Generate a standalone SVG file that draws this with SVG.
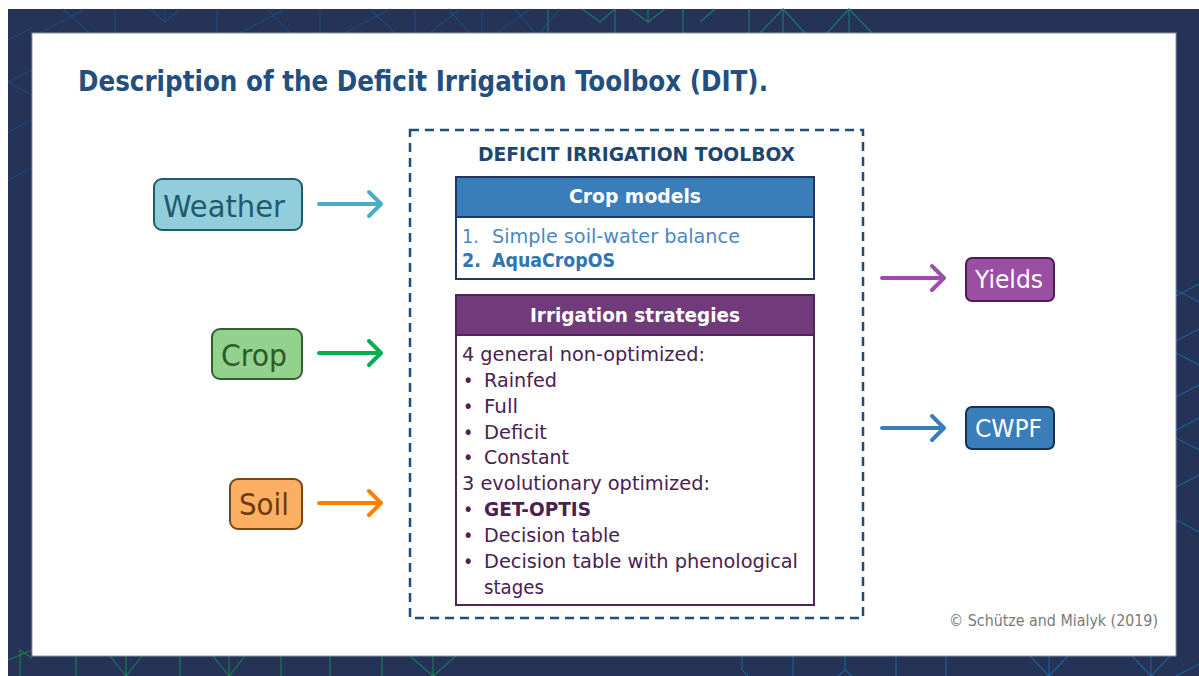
<svg xmlns="http://www.w3.org/2000/svg" width="1199" height="676" viewBox="0 0 1199 676">
<style>
.t{font-family:"DejaVu Sans Condensed","DejaVu Sans",sans-serif}
.b{font-weight:bold}
.body{font-size:19.5px;fill:#4a2150}
.bul{font-size:19.5px;fill:#4a2150}
.arr{fill:none;stroke-width:4;stroke-linecap:round;stroke-linejoin:round}
.bgl{fill:none;stroke-width:1.2}
</style>
<rect x="0" y="0" width="1199" height="676" fill="#ffffff"/>
<rect x="8" y="9" width="1191" height="667" fill="#243356"/>
<g id="bg-pattern">
<g class="bgl" stroke="#1d4a7c">
<path d="M115 9V33M217 9V33M320 9V33M415 9V33M482 9V33"/>
<path d="M40 33L85 9M63 9L90 33M240 33L285 9M267 9L290 33M165 9V22L150 9M165 22L180 9M345 33L390 9M370 9L395 33M430 33L460 9M448 9L470 33M497 33L530 9M515 9L535 33M540 33L560 9"/>
<path d="M8 40L32 28M8 82L32 70M8 82L32 95M8 132L32 120M8 180L32 168"/>
</g>
<g class="bgl" stroke="#1f7472">
<path d="M548 9V33M615 9V33M683 9V33M749 9V33M582 9L600 22L615 9M648 9V22L630 9M648 22L665 9M715 9L700 22M760 33L783 9L805 33M783 9V33M827 33L849 9L872 33M849 9V33"/>
</g>
<g class="bgl" stroke="#1b7a55">
<path d="M76 656V676M180 656V676M281 656V676M330 656V676M382 656V676M433 656V676M110 656L126 676L142 656M126 676V656M213 656L229 676L245 656M229 676V656M410 656L433 676L456 656"/>
<path d="M8 660L32 650M20 676V650L32 658"/>
</g>
<g class="bgl" stroke="#1e5e96">
<path d="M742 656V670L748 676M793 656V676M845 656V670L838 676M845 670L852 676M896 656V676M946 656V676M1030 656L1049 676L1068 656M1049 676V656M1132 656L1151 676L1170 656M1151 676V656M1176 676L1199 664"/>
<path d="M1176 296L1199 284M1176 290L1199 302M1176 341L1199 329M1176 353L1199 365M1176 397L1199 385M1176 430L1199 418M1176 438L1199 450M1176 487L1199 475M1176 520L1199 532"/>
</g>
</g>
<rect x="32" y="33" width="1144" height="623" fill="#ffffff" stroke="#8a97ad" stroke-width="1"/>
<text class="t b" x="78" y="91" font-size="29" fill="#234f80" textLength="690" lengthAdjust="spacingAndGlyphs">Description of the Deficit Irrigation Toolbox (DIT).</text>
<g id="toolbox">
<rect x="410" y="130" width="453" height="488" fill="none" stroke="#1f4e7a" stroke-width="2.5" stroke-dasharray="9 6"/>
<text class="t b" x="478" y="161" font-size="19" fill="#1f4670" textLength="317" lengthAdjust="spacingAndGlyphs">DEFICIT IRRIGATION TOOLBOX</text>
</g>
<g id="crop-models">
<rect x="456" y="177" width="358" height="102" fill="#ffffff" stroke="#1f3864" stroke-width="2"/>
<rect x="456" y="177" width="358" height="40" fill="#3a7dbb" stroke="#1f3864" stroke-width="2"/>
<text class="t b" x="569" y="203" font-size="20" fill="#ffffff" textLength="132" lengthAdjust="spacingAndGlyphs">Crop models</text>
<text class="t" x="462" y="243" font-size="19.5" fill="#4a88c4">1.</text>
<text class="t" x="492" y="243" font-size="19.5" fill="#4a88c4" textLength="248" lengthAdjust="spacingAndGlyphs">Simple soil-water balance</text>
<text class="t b" x="462" y="267" font-size="19.5" fill="#2f75b5">2.</text>
<text class="t b" x="492" y="267" font-size="19.5" fill="#2f75b5" textLength="123" lengthAdjust="spacingAndGlyphs">AquaCropOS</text>
</g>
<g id="irrigation-strategies">
<rect x="456" y="295" width="358" height="310" fill="#ffffff" stroke="#4f2557" stroke-width="2"/>
<rect x="456" y="295" width="358" height="40" fill="#713b7b" stroke="#4f2557" stroke-width="2"/>
<text class="t b" x="530" y="322" font-size="20" fill="#ffffff" textLength="210" lengthAdjust="spacingAndGlyphs">Irrigation strategies</text>
<text class="t body" x="462" y="361" textLength="243" lengthAdjust="spacingAndGlyphs">4 general non-optimized:</text>
<text class="t bul" x="463" y="387">•</text>
<text class="t body" x="484" y="387" textLength="73" lengthAdjust="spacingAndGlyphs">Rainfed</text>
<text class="t bul" x="463" y="413">•</text>
<text class="t body" x="484" y="413" textLength="34" lengthAdjust="spacingAndGlyphs">Full</text>
<text class="t bul" x="463" y="439">•</text>
<text class="t body" x="484" y="439" textLength="63" lengthAdjust="spacingAndGlyphs">Deficit</text>
<text class="t bul" x="463" y="464">•</text>
<text class="t body" x="484" y="464" textLength="85" lengthAdjust="spacingAndGlyphs">Constant</text>
<text class="t body" x="462" y="490" textLength="248" lengthAdjust="spacingAndGlyphs">3 evolutionary optimized:</text>
<text class="t bul" x="463" y="516">•</text>
<text class="t body b" x="484" y="516" textLength="107" lengthAdjust="spacingAndGlyphs">GET-OPTIS</text>
<text class="t bul" x="463" y="542">•</text>
<text class="t body" x="484" y="542" textLength="136" lengthAdjust="spacingAndGlyphs">Decision table</text>
<text class="t bul" x="463" y="568">•</text>
<text class="t body" x="484" y="568" textLength="314" lengthAdjust="spacingAndGlyphs">Decision table with phenological</text>
<text class="t body" x="484" y="594" textLength="60" lengthAdjust="spacingAndGlyphs">stages</text>
</g>
<g id="weather">
<rect x="154" y="179" width="148" height="51" rx="8" fill="#92cddc" stroke="#215a6b" stroke-width="2"/>
<text class="t" x="163" y="217" font-size="30" fill="#1f5a6c" textLength="122" lengthAdjust="spacingAndGlyphs">Weather</text>
</g>
<g id="crop">
<rect x="212" y="329" width="90" height="50" rx="8" fill="#93d18f" stroke="#365f2b" stroke-width="2"/>
<text class="t" x="221" y="366" font-size="30" fill="#2e5a26" textLength="66" lengthAdjust="spacingAndGlyphs">Crop</text>
</g>
<g id="soil">
<rect x="230" y="479" width="72" height="50" rx="8" fill="#fdb063" stroke="#7a4612" stroke-width="2"/>
<text class="t" x="239" y="515" font-size="30" fill="#6e3c0c" textLength="50" lengthAdjust="spacingAndGlyphs">Soil</text>
</g>
<g id="yields">
<rect x="966" y="258" width="88" height="43" rx="6" fill="#9a4fa4" stroke="#4a1f50" stroke-width="2"/>
<text class="t" x="975" y="288" font-size="25" fill="#ffffff" textLength="68" lengthAdjust="spacingAndGlyphs">Yields</text>
</g>
<g id="cwpf">
<rect x="966" y="407" width="88" height="42" rx="6" fill="#3a7dbb" stroke="#17304f" stroke-width="2"/>
<text class="t" x="975" y="437" font-size="25" fill="#ffffff" textLength="67" lengthAdjust="spacingAndGlyphs">CWPF</text>
</g>
<g id="connectors">
<path class="arr" stroke="#4bacc6" d="M319 204H380M369 192L381 204L369 216"/>
<path class="arr" stroke="#00b050" d="M319 353H380M369 341L381 353L369 365"/>
<path class="arr" stroke="#ff8000" d="M319 503H380M369 491L381 503L369 515"/>
<path class="arr" stroke="#9b4fa6" d="M882 278H943M932 266L944 278L932 290"/>
<path class="arr" stroke="#3a7dbb" d="M882 428H943M932 416L944 428L932 440"/>
</g>
<text class="t" x="949" y="626" font-size="16" fill="#7a7a7a" textLength="209" lengthAdjust="spacingAndGlyphs">© Schütze and Mialyk (2019)</text>
</svg>
